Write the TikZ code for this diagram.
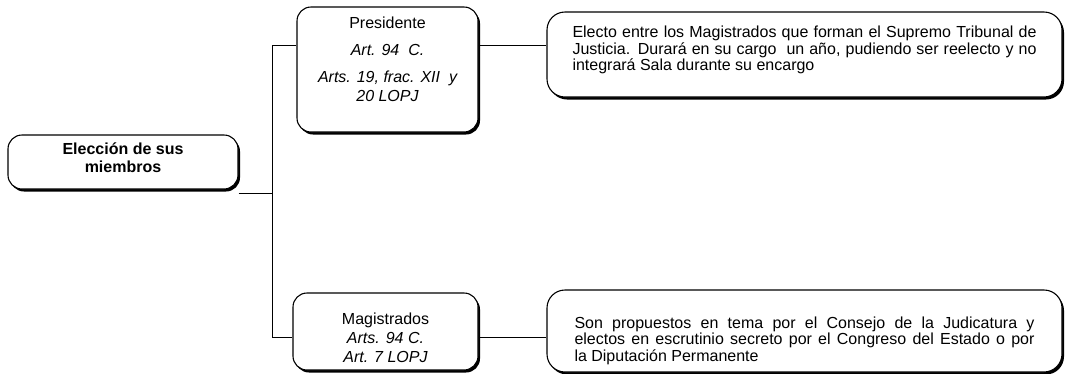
\documentclass[tikz,border=0pt]{standalone}
\usepackage{fontspec}
\setmainfont{Liberation Sans}
\usetikzlibrary{shadows}
\begin{document}
\begin{tikzpicture}[x=1pt,y=-1pt,
 box/.style={draw, line width=1.1pt, rounded corners=14pt, fill=white,
   drop shadow={shadow xshift=2pt, shadow yshift=-2.5pt, opacity=1, fill=black},
   inner sep=0pt, align=center, font=\fontsize{16}{19}\selectfont},
 desc/.style={box, rounded corners=18pt, align=justify, font=\fontsize{16}{16.5}\selectfont},
 conn/.style={line width=1pt}]
\useasboundingbox (0,0) rectangle (1090,373);
\node[box, minimum width=230pt, minimum height=54pt, font=\bfseries\fontsize{16}{18}\selectfont] (elec) at (123,162)
  {Elección de sus\\miembros\\[-10pt]\mbox{}};
\node[box, minimum width=181pt, minimum height=125pt] (pres) at (387.5,69.5)
  {Presidente\\[8pt]\itshape Art. 94~~C.\\[8pt]\itshape Arts. 19, frac. XII~~y\\\itshape 20 LOPJ\\[2pt]\mbox{}};
\node[box, minimum width=185pt, minimum height=77pt] (mag) at (385.5,331.5)
  {\rule{0pt}{24pt}Magistrados\\\itshape Arts. 94 C.\\\itshape Art. 7 LOPJ};
\node[desc, minimum width=515pt, minimum height=85pt, text width=464pt] (d1) at (804.5,54.5)
  {Electo entre los Magistrados que forman el Supremo Tribunal de\linebreak
   Justicia. Durará en su cargo~ un año, pudiendo ser reelecto y no\linebreak
   integrará Sala durante su encargo\rule[-12pt]{0pt}{1pt}};
\node[desc, minimum width=515pt, minimum height=82pt, text width=460pt] (d2) at (804.5,331)
  {\par\vspace{14pt}\noindent Son propuestos en tema por el Consejo de la Judicatura y\linebreak
   electos en escrutinio secreto por el Congreso del Estado o por\linebreak
   la Diputación Permanente};
\coordinate (jt) at (272,45);
\coordinate (jb) at (272,337);
\coordinate (je) at (272,193);
\draw[conn] (elec.east |- je) -- (je);
\draw[conn] (pres.west |- jt) -- (jt) -- (jb) -- (mag.west |- jb);
\draw[conn] (pres.east |- jt) -- (d1.west |- jt);
\draw[conn] (mag.east |- jb) -- (d2.west |- jb);
\end{tikzpicture}
\end{document}
